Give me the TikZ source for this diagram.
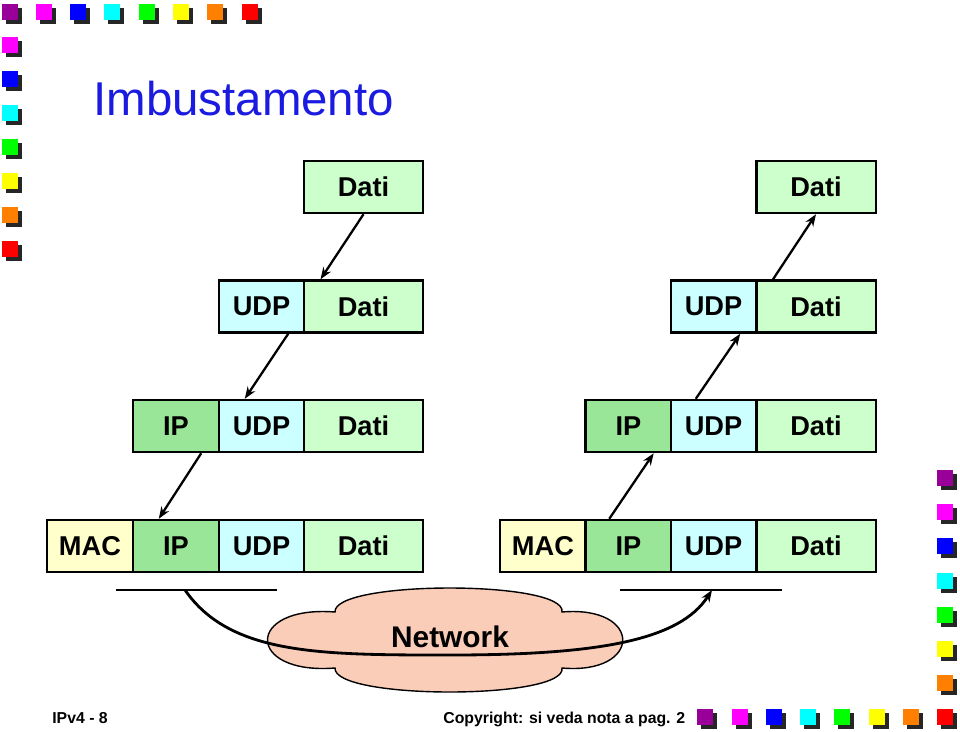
\documentclass[tikz,border=0pt]{standalone}
\usepackage{fontspec}
\setmainfont{Liberation Sans}
\usepackage{tikz}
\usetikzlibrary{arrows.meta, calc}
\definecolor{titleblue}{HTML}{1A1AE0}
\definecolor{datigreen}{HTML}{CCFFCC}
\definecolor{udpcyan}{HTML}{CCFFFF}
\definecolor{ipgreen}{HTML}{99E699}
\definecolor{macyellow}{HTML}{FFFFCC}
\definecolor{cloudpink}{HTML}{FACDB9}
\definecolor{sqpurple}{HTML}{990099}
\definecolor{sqmagenta}{HTML}{FF00FF}
\definecolor{sqblue}{HTML}{0000FF}
\definecolor{sqcyan}{HTML}{00FFFF}
\definecolor{sqgreen}{HTML}{00FF00}
\definecolor{sqyellow}{HTML}{FFFF00}
\definecolor{sqorange}{HTML}{FF8000}
\definecolor{sqred}{HTML}{FF0000}
\tikzset{
    pktbox/.style={rectangle, draw=black, line width=1.4pt, minimum height=1.04cm, inner sep=0pt, font=\fontsize{15.5}{18}\selectfont\bfseries},
    macbox/.style={pktbox, fill=macyellow, minimum width=1.72cm},
    ipbox/.style={pktbox, fill=ipgreen, minimum width=1.72cm},
    udpbox/.style={pktbox, fill=udpcyan, minimum width=1.70cm},
    datibox/.style={pktbox, fill=datigreen, minimum width=2.39cm},
    arrow/.style={line width=1.3pt, -{Stealth[length=2.4mm, width=1.8mm]}},
    wire/.style={line width=1.6pt}
}
\newcommand{\decosq}[3]{%
    \fill[black!85] (#1+4,#2+4) rectangle +(16,16);
    \fill[#3] (#1,#2) rectangle +(16,16);}

\begin{document}
\begin{tikzpicture}[x=0.02cm, y=-0.02cm]
    \useasboundingbox (0,0) rectangle (960,731);

    \foreach \xx/\cc in {2/sqpurple, 36/sqmagenta, 70/sqblue, 104/sqcyan, 139/sqgreen, 173/sqyellow, 207/sqorange, 242/sqred}
        \decosq{\xx}{4}{\cc};
    \foreach \yy/\cc in {37/sqmagenta, 71/sqblue, 105/sqcyan, 139/sqgreen, 173/sqyellow, 207/sqorange, 241/sqred}
        \decosq{2}{\yy}{\cc};
    \foreach \yy/\cc in {470/sqpurple, 504/sqmagenta, 538/sqblue, 573/sqcyan, 607/sqgreen, 641/sqyellow, 675/sqorange}
        \decosq{937}{\yy}{\cc};
    \foreach \xx/\cc in {697/sqpurple, 732/sqmagenta, 766/sqblue, 800/sqcyan, 834/sqgreen, 869/sqyellow, 903/sqorange, 937/sqred}
        \decosq{\xx}{709}{\cc};

    \node[anchor=base west, inner sep=0pt, text=titleblue, font=\fontsize{27}{32}\selectfont] (title) at (93,115) {Imbustamento};

    \node[datibox] (dL1) at (363.5,187) {Dati};
    \node[udpbox] (uL2) at (261.5,306.5) {UDP};
    \node[datibox] (dL2) at (363.5,306.5) {Dati};
    \node[ipbox] (iL3) at (176,426) {IP};
    \node[udpbox] (uL3) at (261.5,426) {UDP};
    \node[datibox] (dL3) at (363.5,426) {Dati};
    \node[macbox] (mL4) at (90,546) {MAC};
    \node[ipbox] (iL4) at (176,546) {IP};
    \node[udpbox] (uL4) at (261.5,546) {UDP};
    \node[datibox] (dL4) at (363.5,546) {Dati};

    \node[datibox] (dR1) at (816,187) {Dati};
    \node[udpbox] (uR2) at (713.5,306.5) {UDP};
    \node[datibox] (dR2) at (816,306.5) {Dati};
    \node[ipbox] (iR3) at (628.5,426) {IP};
    \node[udpbox] (uR3) at (713.5,426) {UDP};
    \node[datibox] (dR3) at (816,426) {Dati};
    \node[macbox] (mR4) at (543,546) {MAC};
    \node[ipbox] (iR4) at (628.5,546) {IP};
    \node[udpbox] (uR4) at (713.5,546) {UDP};
    \node[datibox] (dR4) at (816,546) {Dati};

    \draw[arrow] (dL1.south) -- ($(dL2.north west)+(18,0)$);
    \draw[arrow] ($(uL2.south east)+(-17,0)$) -- ($(uL3.north west)+(27,0)$);
    \draw[arrow] ($(iL3.south east)+(-19,0)$) -- ($(iL4.north west)+(27,0)$);
    \draw[arrow] ($(iR4.north west)+(25,0)$) -- ($(iR3.south east)+(-19,0)$);
    \draw[arrow] ($(uR3.north west)+(26,0)$) -- ($(uR2.south east)+(-17,0)$);
    \draw[arrow] ($(dR2.north west)+(18,0)$) -- (dR1.south);

    \coordinate (lanL1) at (116,590);
    \coordinate (lanL2) at (277,590);
    \coordinate (lanR1) at (620,590);
    \coordinate (lanR2) at (782,590);
    \coordinate (txL) at (185,590);
    \coordinate (rxR) at (712,590);
    \draw[wire] (lanL1) -- (lanL2);
    \draw[wire] (lanR1) -- (lanR2);

    \filldraw[fill=cloudpink, draw=black, line width=0.8pt]
        (335,612) .. controls (333,580) and (567,580) .. (562,612)
        .. controls (643,605) and (643,675) .. (562,668)
        .. controls (567,700) and (333,700) .. (335,668)
        .. controls (245,675) and (245,605) .. (335,612) -- cycle;

    \draw[wire, -{Stealth[length=2.4mm, width=1.8mm]}] (txL) .. controls (230,655) and (320,655) .. (450,655) .. controls (600,655) and (680,640) .. (rxR);

    \node[font=\fontsize{17}{20}\selectfont\bfseries] (net) at (450,637) {Network};

    \node[anchor=base west, inner sep=0pt, font=\fontsize{9}{11}\selectfont\bfseries] (slide) at (52,723) {IPv4 - 8};
    \node[anchor=base west, inner sep=0pt, font=\fontsize{9}{11}\selectfont\bfseries] (copy) at (443,723) {Copyright: si veda nota a pag. 2};
\end{tikzpicture}
\end{document}
